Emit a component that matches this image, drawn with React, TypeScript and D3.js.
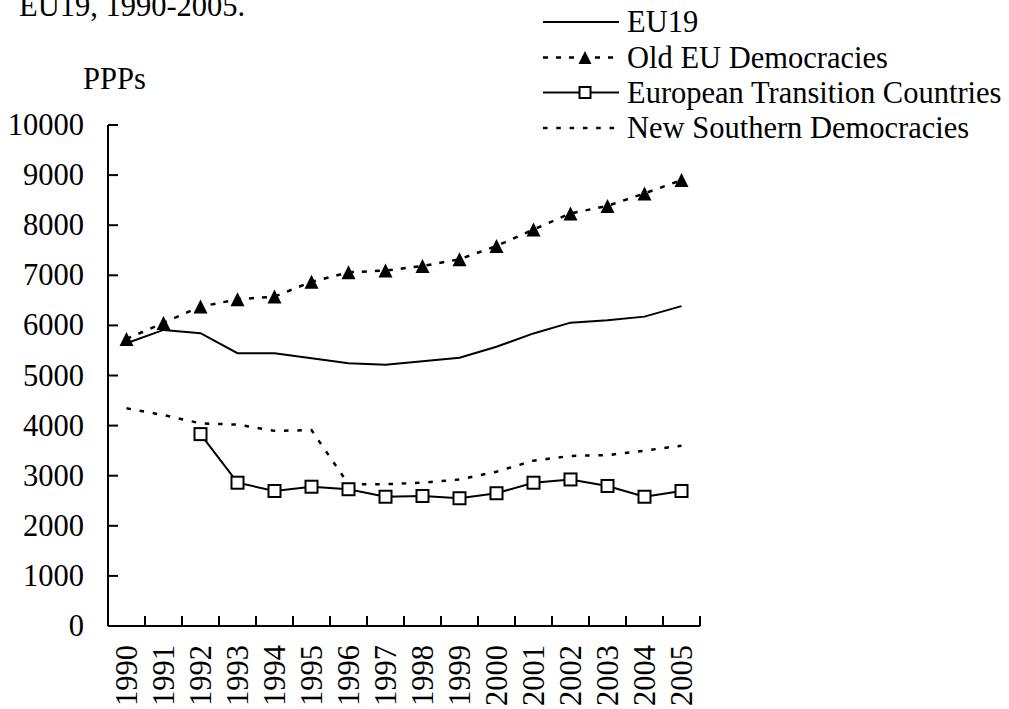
import * as d3 from "d3";

const years = [
  "1990", "1991", "1992", "1993", "1994", "1995", "1996", "1997",
  "1998", "1999", "2000", "2001", "2002", "2003", "2004", "2005",
];

const eu19 = [5645, 5910, 5845, 5445, 5445, 5345, 5245, 5215, 5285, 5355, 5575, 5840, 6055, 6105, 6175, 6385];
const oldEU = [5730, 6050, 6375, 6520, 6575, 6870, 7060, 7095, 7185, 7320, 7585, 7915, 8235, 8385, 8635, 8900];
const transition: (number | null)[] = [null, null, 3830, 2860, 2695, 2780, 2730, 2580, 2595, 2550, 2650, 2860, 2925, 2795, 2580, 2695];
const southern = [4345, 4210, 4045, 4020, 3895, 3910, 2830, 2830, 2860, 2925, 3080, 3300, 3395, 3410, 3500, 3600];

const yTicks = [0, 1000, 2000, 3000, 4000, 5000, 6000, 7000, 8000, 9000, 10000];

const FONT = "Liberation Serif, Tinos, Times New Roman, DejaVu Serif, serif";
const FS = 30.5;

const Triangle = ({ x, y, s = 14 }: { x: number; y: number; s?: number }) => (
  <path
    d={`M${x},${y - s / 2} L${x + s / 2},${y + s / 2} L${x - s / 2},${y + s / 2} Z`}
    fill="#000"
  />
);

const Square = ({ x, y, s = 12 }: { x: number; y: number; s?: number }) => (
  <rect x={x - s / 2} y={y - s / 2} width={s} height={s} fill="#fff" stroke="#000" strokeWidth={2} />
);

export default function App() {
  const width = 1009;
  const height = 709;
  const left = 108;
  const right = 700;
  const top = 125;
  const bottom = 626;

  const x = d3.scaleBand().domain(years).range([left, right]);
  const cx = (d: string) => (x(d) ?? 0) + x.bandwidth() / 2;
  const y = d3.scaleLinear().domain([0, 10000]).range([bottom, top]);

  const line = d3
    .line<number | null>()
    .defined((d) => d !== null)
    .x((_, i) => cx(years[i]))
    .y((d) => y(d as number));

  const legendRows = [22, 57.5, 92.5, 128];
  const lx1 = 543;
  const lx2 = 619;
  const lmid = (lx1 + lx2) / 2 + 4;

  return (
    <svg
      width={width}
      height={height}
      style={{ position: "absolute", left: 0, top: 0, background: "#fff", fontFamily: FONT, fontSize: FS }}
    >
      <text x={19} y={16}>EU19, 1990-2005.</text>
      <text x={83} y={89}>PPPs</text>

      {/* y axis */}
      <line x1={left} x2={left} y1={top} y2={bottom} stroke="#000" strokeWidth={2} />
      {yTicks.map((t) => (
        <g key={t}>
          <line x1={left} x2={left + 10} y1={y(t)} y2={y(t)} stroke="#000" strokeWidth={2} />
          <text x={84} y={y(t)} textAnchor="end" dominantBaseline="central">{t}</text>
        </g>
      ))}

      {/* x axis */}
      <line x1={left} x2={right} y1={bottom} y2={bottom} stroke="#000" strokeWidth={2} />
      {years.map((d) => (
        <line key={d} x1={(x(d) ?? 0) + x.bandwidth()} x2={(x(d) ?? 0) + x.bandwidth()} y1={bottom} y2={bottom - 10} stroke="#000" strokeWidth={2} />
      ))}
      {years.map((d) => (
        <text
          key={d}
          transform={`translate(${cx(d)},${bottom + 19}) rotate(-90)`}
          textAnchor="end"
          dominantBaseline="central"
        >
          {d}
        </text>
      ))}

      {/* series */}
      <path d={line(southern) ?? ""} fill="none" stroke="#000" strokeWidth={2.5} strokeDasharray="4.5 8.8" />
      <path d={line(eu19) ?? ""} fill="none" stroke="#000" strokeWidth={2} />
      <path d={line(oldEU) ?? ""} fill="none" stroke="#000" strokeWidth={2.5} strokeDasharray="5 8" />
      <path d={line(transition) ?? ""} fill="none" stroke="#000" strokeWidth={2} />
      {oldEU.map((v, i) => (
        <Triangle key={i} x={cx(years[i])} y={y(v)} />
      ))}
      {transition.map((v, i) =>
        v === null ? null : <Square key={i} x={cx(years[i])} y={y(v)} />
      )}

      {/* legend */}
      <g>
        <line x1={lx1} x2={lx2} y1={legendRows[0]} y2={legendRows[0]} stroke="#000" strokeWidth={2} />
        <text x={627} y={legendRows[0]} dominantBaseline="central">EU19</text>

        <line x1={lx1} x2={lx2} y1={legendRows[1]} y2={legendRows[1]} stroke="#000" strokeWidth={2.5} strokeDasharray="5 8" />
        <Triangle x={lmid} y={legendRows[1]} s={13} />
        <text x={627} y={legendRows[1]} dominantBaseline="central">Old EU Democracies</text>

        <line x1={lx1} x2={lx2} y1={legendRows[2]} y2={legendRows[2]} stroke="#000" strokeWidth={2} />
        <Square x={lmid} y={legendRows[2]} s={11} />
        <text x={627} y={legendRows[2]} dominantBaseline="central">European Transition Countries</text>

        <line x1={lx1} x2={lx2} y1={legendRows[3]} y2={legendRows[3]} stroke="#000" strokeWidth={2.5} strokeDasharray="4.5 8.8" />
        <text x={627} y={legendRows[3]} dominantBaseline="central">New Southern Democracies</text>
      </g>
    </svg>
  );
}
